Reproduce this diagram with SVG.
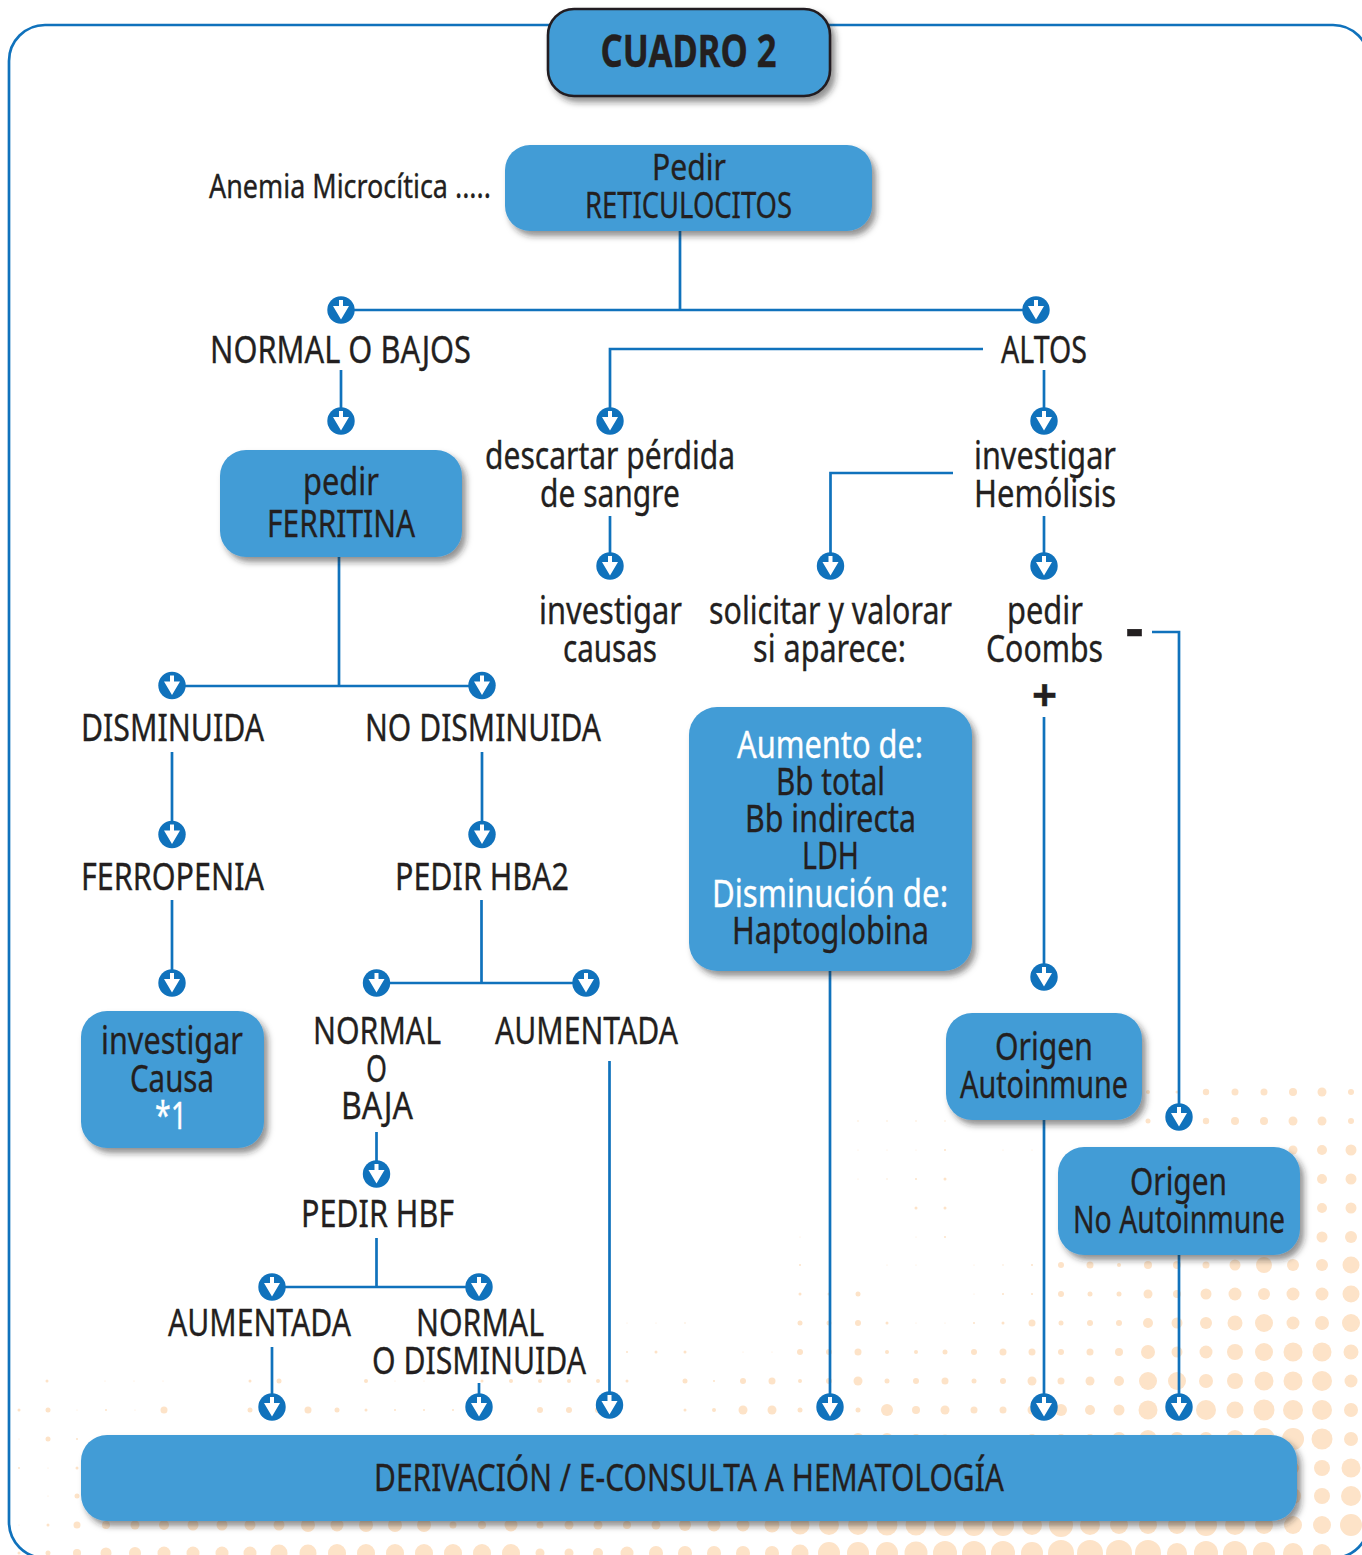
<svg xmlns="http://www.w3.org/2000/svg" width="1362" height="1555" viewBox="0 0 1362 1555">
<style>
.t{font-family:"Noto Sans","Liberation Sans",sans-serif;font-size:39px;fill:#231f20;stroke:#231f20;stroke-width:.35;text-anchor:middle}
.w{fill:#fff;stroke:#fff}
.b{fill:#439cd6;filter:url(#sh)}
.c{fill:none;stroke:#1072bc;stroke-width:2.7}
.d circle{fill:#fde3c8}
</style>
<defs>
<filter id="sh" x="-10%" y="-15%" width="125%" height="135%"><feDropShadow dx="4" dy="5" stdDeviation="3" flood-color="#231f20" flood-opacity=".5"/></filter>
<g id="a"><circle r="13.7" fill="#1072bc"/><polygon points="-2,-10 2,-10 2,-4 8,-4 0,9.5 -8,-4 -2,-4" fill="#fff"/></g>
</defs>
<rect width="1362" height="1555" fill="#fff"/>
<g id="dots" class="d">
<circle cx="1148" cy="1092" r="2"/><circle cx="1177" cy="1092" r="1.5"/><circle cx="1206" cy="1092" r="3.2"/><circle cx="1235" cy="1092" r="3.5"/><circle cx="1264" cy="1092" r="3.5"/><circle cx="1293" cy="1092" r="4"/><circle cx="1322" cy="1092" r="4.5"/><circle cx="1351" cy="1092" r="3"/>
<circle cx="858" cy="1121" r=".7"/><circle cx="887" cy="1121" r=".7"/><circle cx="916" cy="1121" r=".7"/><circle cx="945" cy="1121" r=".7"/><circle cx="1148" cy="1121" r="2.5"/><circle cx="1206" cy="1121" r="3.2"/><circle cx="1235" cy="1121" r="4"/><circle cx="1264" cy="1121" r="4"/><circle cx="1293" cy="1121" r="4.5"/><circle cx="1322" cy="1121" r="4.5"/><circle cx="1351" cy="1121" r="3"/>
<circle cx="858" cy="1150" r=".5"/><circle cx="887" cy="1150" r=".5"/><circle cx="916" cy="1150" r=".5"/><circle cx="945" cy="1150" r="1"/><circle cx="1003" cy="1150" r=".5"/><circle cx="1032" cy="1150" r=".5"/><circle cx="1293" cy="1150" r="4.5"/><circle cx="1322" cy="1150" r="5"/><circle cx="1351" cy="1150" r="5.5"/>
<circle cx="858" cy="1179" r=".5"/><circle cx="887" cy="1179" r=".7"/><circle cx="916" cy="1179" r="1"/><circle cx="945" cy="1179" r="1.5"/><circle cx="1322" cy="1179" r="5"/><circle cx="1351" cy="1179" r="5.5"/>
<circle cx="916" cy="1208" r="1.5"/><circle cx="945" cy="1208" r="1.5"/><circle cx="1322" cy="1208" r="5"/><circle cx="1351" cy="1208" r="5.5"/>
<circle cx="800" cy="1237" r=".5"/><circle cx="916" cy="1237" r=".5"/><circle cx="945" cy="1237" r="1"/><circle cx="1322" cy="1237" r="5.5"/><circle cx="1351" cy="1237" r="6"/>
<circle cx="800" cy="1265" r="1"/><circle cx="887" cy="1265" r=".5"/><circle cx="916" cy="1265" r=".5"/><circle cx="974" cy="1265" r=".5"/><circle cx="1003" cy="1265" r=".7"/><circle cx="1032" cy="1265" r="1"/><circle cx="1061" cy="1265" r="3"/><circle cx="1090" cy="1265" r="3.5"/><circle cx="1119" cy="1265" r="2"/><circle cx="1148" cy="1265" r="4"/><circle cx="1177" cy="1265" r="4"/><circle cx="1206" cy="1265" r="3.5"/><circle cx="1235" cy="1265" r="5.5"/><circle cx="1264" cy="1265" r="8"/><circle cx="1293" cy="1265" r="6"/><circle cx="1322" cy="1265" r="6"/><circle cx="1351" cy="1265" r="8.5"/>
<circle cx="800" cy="1294" r="1.5"/><circle cx="829" cy="1294" r="1.5"/><circle cx="858" cy="1294" r="2.5"/><circle cx="974" cy="1294" r=".5"/><circle cx="1003" cy="1294" r="1"/><circle cx="1032" cy="1294" r="1"/><circle cx="1061" cy="1294" r="3"/><circle cx="1090" cy="1294" r="2.5"/><circle cx="1119" cy="1294" r="2.5"/><circle cx="1148" cy="1294" r="4.5"/><circle cx="1177" cy="1294" r="4"/><circle cx="1206" cy="1294" r="5.5"/><circle cx="1235" cy="1294" r="6.5"/><circle cx="1264" cy="1294" r="6"/><circle cx="1293" cy="1294" r="6.5"/><circle cx="1322" cy="1294" r="6.5"/><circle cx="1351" cy="1294" r="8.5"/>
<circle cx="627" cy="1323" r=".5"/><circle cx="656" cy="1323" r=".5"/><circle cx="685" cy="1323" r=".7"/><circle cx="800" cy="1323" r="2.5"/><circle cx="829" cy="1323" r="2.5"/><circle cx="858" cy="1323" r="3"/><circle cx="887" cy="1323" r="1.5"/><circle cx="916" cy="1323" r=".5"/><circle cx="945" cy="1323" r=".5"/><circle cx="974" cy="1323" r="1"/><circle cx="1003" cy="1323" r="1.5"/><circle cx="1032" cy="1323" r="3.5"/><circle cx="1061" cy="1323" r="2.5"/><circle cx="1090" cy="1323" r="3"/><circle cx="1119" cy="1323" r="3"/><circle cx="1148" cy="1323" r="5"/><circle cx="1177" cy="1323" r="5.5"/><circle cx="1206" cy="1323" r="6"/><circle cx="1235" cy="1323" r="7.5"/><circle cx="1264" cy="1323" r="9"/><circle cx="1293" cy="1323" r="6.5"/><circle cx="1322" cy="1323" r="7"/><circle cx="1351" cy="1323" r="9"/>
<circle cx="627" cy="1352" r="1"/><circle cx="656" cy="1352" r="1.5"/><circle cx="685" cy="1352" r="1.5"/><circle cx="743" cy="1352" r=".5"/><circle cx="772" cy="1352" r=".5"/><circle cx="800" cy="1352" r="3"/><circle cx="829" cy="1352" r="3"/><circle cx="858" cy="1352" r="3.5"/><circle cx="887" cy="1352" r="2"/><circle cx="916" cy="1352" r="2"/><circle cx="945" cy="1352" r="2.5"/><circle cx="974" cy="1352" r="3"/><circle cx="1003" cy="1352" r="3.5"/><circle cx="1032" cy="1352" r="3.5"/><circle cx="1061" cy="1352" r="3"/><circle cx="1090" cy="1352" r="3.5"/><circle cx="1119" cy="1352" r="4"/><circle cx="1148" cy="1352" r="7"/><circle cx="1177" cy="1352" r="5.5"/><circle cx="1206" cy="1352" r="6.5"/><circle cx="1235" cy="1352" r="8"/><circle cx="1264" cy="1352" r="9"/><circle cx="1293" cy="1352" r="9.5"/><circle cx="1322" cy="1352" r="9.5"/><circle cx="1351" cy="1352" r="7.5"/>
<circle cx="47" cy="1381" r="1.5"/><circle cx="105" cy="1381" r=".5"/><circle cx="134" cy="1381" r=".5"/><circle cx="163" cy="1381" r=".5"/><circle cx="250" cy="1381" r="1.5"/><circle cx="279" cy="1381" r="2.5"/><circle cx="366" cy="1381" r="2"/><circle cx="395" cy="1381" r=".5"/><circle cx="424" cy="1381" r=".5"/><circle cx="482" cy="1381" r="1.5"/><circle cx="511" cy="1381" r="2"/><circle cx="540" cy="1381" r="2"/><circle cx="569" cy="1381" r="2"/><circle cx="598" cy="1381" r="2"/><circle cx="627" cy="1381" r="1.5"/><circle cx="685" cy="1381" r="2.5"/><circle cx="714" cy="1381" r="1"/><circle cx="743" cy="1381" r="3"/><circle cx="772" cy="1381" r="3.5"/><circle cx="800" cy="1381" r="2"/><circle cx="829" cy="1381" r="3"/><circle cx="858" cy="1381" r="4.5"/><circle cx="887" cy="1381" r="2.5"/><circle cx="916" cy="1381" r="3"/><circle cx="945" cy="1381" r="3.5"/><circle cx="974" cy="1381" r="2.5"/><circle cx="1003" cy="1381" r="3"/><circle cx="1032" cy="1381" r="4.5"/><circle cx="1061" cy="1381" r="3.5"/><circle cx="1090" cy="1381" r="4.5"/><circle cx="1119" cy="1381" r="5"/><circle cx="1148" cy="1381" r="9"/><circle cx="1177" cy="1381" r="9"/><circle cx="1206" cy="1381" r="7"/><circle cx="1235" cy="1381" r="8"/><circle cx="1264" cy="1381" r="9.5"/><circle cx="1293" cy="1381" r="9.5"/><circle cx="1322" cy="1381" r="10"/><circle cx="1351" cy="1381" r="6.5"/>
<circle cx="19" cy="1410" r="1.5"/><circle cx="48" cy="1410" r="2.5"/><circle cx="77" cy="1410" r=".5"/><circle cx="106" cy="1410" r="1"/><circle cx="135" cy="1410" r=".5"/><circle cx="164" cy="1410" r="3.5"/><circle cx="250" cy="1410" r="2.5"/><circle cx="308" cy="1410" r="3.5"/><circle cx="337" cy="1410" r="2.5"/><circle cx="366" cy="1410" r="1.5"/><circle cx="395" cy="1410" r="1"/><circle cx="424" cy="1410" r="1"/><circle cx="453" cy="1410" r="1"/><circle cx="540" cy="1410" r="3"/><circle cx="569" cy="1410" r="3"/><circle cx="598" cy="1410" r="3"/><circle cx="685" cy="1410" r="1.5"/><circle cx="714" cy="1410" r="2"/><circle cx="743" cy="1410" r="4.5"/><circle cx="772" cy="1410" r="4.5"/><circle cx="800" cy="1410" r="2.5"/><circle cx="858" cy="1410" r="2.5"/><circle cx="887" cy="1410" r="6"/><circle cx="916" cy="1410" r="4"/><circle cx="945" cy="1410" r="4.5"/><circle cx="974" cy="1410" r="3.5"/><circle cx="1003" cy="1410" r="3.5"/><circle cx="1032" cy="1410" r="4.5"/><circle cx="1061" cy="1410" r="6"/><circle cx="1090" cy="1410" r="5"/><circle cx="1119" cy="1410" r="5.5"/><circle cx="1148" cy="1410" r="9.5"/><circle cx="1206" cy="1410" r="10"/><circle cx="1235" cy="1410" r="8.5"/><circle cx="1264" cy="1410" r="10.5"/><circle cx="1293" cy="1410" r="10"/><circle cx="1322" cy="1410" r="10"/><circle cx="1351" cy="1410" r="7"/>
<circle cx="19" cy="1439" r=".5"/><circle cx="48" cy="1439" r="2.5"/><circle cx="77" cy="1439" r="1"/><circle cx="772" cy="1439" r="4"/><circle cx="858" cy="1439" r="6"/><circle cx="887" cy="1439" r="6"/><circle cx="916" cy="1439" r="5"/><circle cx="945" cy="1439" r="4.5"/><circle cx="974" cy="1439" r="4"/><circle cx="1003" cy="1439" r="4"/><circle cx="1032" cy="1439" r="5"/><circle cx="1061" cy="1439" r="5"/><circle cx="1090" cy="1439" r="5"/><circle cx="1119" cy="1439" r="7"/><circle cx="1148" cy="1439" r="9"/><circle cx="1177" cy="1439" r="7"/><circle cx="1206" cy="1439" r="7"/><circle cx="1235" cy="1439" r="9"/><circle cx="1264" cy="1439" r="11"/><circle cx="1293" cy="1439" r="11"/><circle cx="1322" cy="1439" r="10.5"/><circle cx="1351" cy="1439" r="7"/>
<circle cx="19" cy="1468" r="1"/><circle cx="48" cy="1468" r=".5"/><circle cx="77" cy="1468" r="1.5"/><circle cx="1293" cy="1468" r="6"/><circle cx="1322" cy="1468" r="8"/><circle cx="1351" cy="1468" r="9.5"/>
<circle cx="48" cy="1496" r=".5"/><circle cx="77" cy="1496" r="2.5"/><circle cx="1293" cy="1496" r="8"/><circle cx="1322" cy="1496" r="8"/><circle cx="1351" cy="1496" r="10"/>
<circle cx="19" cy="1525" r=".5"/><circle cx="48" cy="1525" r="1.5"/><circle cx="77" cy="1525" r="3.5"/><circle cx="106" cy="1525" r="4"/><circle cx="135" cy="1525" r="4.5"/><circle cx="164" cy="1525" r="5"/><circle cx="193" cy="1525" r="5.5"/><circle cx="222" cy="1525" r="5.5"/><circle cx="250" cy="1525" r="5.5"/><circle cx="279" cy="1525" r="5.5"/><circle cx="308" cy="1525" r="7"/><circle cx="337" cy="1525" r="6.5"/><circle cx="366" cy="1525" r="7"/><circle cx="395" cy="1525" r="7"/><circle cx="424" cy="1525" r="7"/><circle cx="453" cy="1525" r="3.5"/><circle cx="482" cy="1525" r="4"/><circle cx="511" cy="1525" r="6.5"/><circle cx="540" cy="1525" r="3.5"/><circle cx="569" cy="1525" r="4.5"/><circle cx="598" cy="1525" r="4.5"/><circle cx="627" cy="1525" r="4"/><circle cx="656" cy="1525" r="4.5"/><circle cx="685" cy="1525" r="6"/><circle cx="714" cy="1525" r="6.5"/><circle cx="743" cy="1525" r="6.5"/><circle cx="772" cy="1525" r="7.5"/><circle cx="800" cy="1525" r="9.5"/><circle cx="829" cy="1525" r="10"/><circle cx="858" cy="1525" r="10"/><circle cx="887" cy="1525" r="10.5"/><circle cx="916" cy="1525" r="10.5"/><circle cx="945" cy="1525" r="11"/><circle cx="974" cy="1525" r="11"/><circle cx="1003" cy="1525" r="11"/><circle cx="1032" cy="1525" r="10"/><circle cx="1061" cy="1525" r="12"/><circle cx="1090" cy="1525" r="10"/><circle cx="1119" cy="1525" r="9"/><circle cx="1148" cy="1525" r="9"/><circle cx="1177" cy="1525" r="9"/><circle cx="1206" cy="1525" r="11"/><circle cx="1235" cy="1525" r="10"/><circle cx="1264" cy="1525" r="9"/><circle cx="1293" cy="1525" r="9"/><circle cx="1322" cy="1525" r="9"/><circle cx="1351" cy="1525" r="11"/>
<circle cx="19" cy="1553" r="1.5"/><circle cx="48" cy="1553" r="2.5"/><circle cx="77" cy="1553" r="4"/><circle cx="106" cy="1553" r="5.5"/><circle cx="135" cy="1553" r="6"/><circle cx="164" cy="1553" r="6.5"/><circle cx="193" cy="1553" r="6.5"/><circle cx="222" cy="1553" r="6.5"/><circle cx="250" cy="1553" r="6.5"/><circle cx="279" cy="1553" r="8.5"/><circle cx="308" cy="1553" r="8.5"/><circle cx="337" cy="1553" r="9"/><circle cx="366" cy="1553" r="9"/><circle cx="395" cy="1553" r="9"/><circle cx="424" cy="1553" r="9"/><circle cx="453" cy="1553" r="9"/><circle cx="482" cy="1553" r="9"/><circle cx="511" cy="1553" r="9"/><circle cx="540" cy="1553" r="4.5"/><circle cx="569" cy="1553" r="4.5"/><circle cx="598" cy="1553" r="5"/><circle cx="627" cy="1553" r="6.5"/><circle cx="656" cy="1553" r="7"/><circle cx="685" cy="1553" r="7"/><circle cx="714" cy="1553" r="7"/><circle cx="743" cy="1553" r="7"/><circle cx="772" cy="1553" r="7"/><circle cx="800" cy="1553" r="8.5"/><circle cx="829" cy="1553" r="11"/><circle cx="858" cy="1553" r="11"/><circle cx="887" cy="1553" r="11"/><circle cx="916" cy="1553" r="11.5"/><circle cx="945" cy="1553" r="12"/><circle cx="974" cy="1553" r="12"/><circle cx="1003" cy="1553" r="12"/><circle cx="1032" cy="1553" r="11"/><circle cx="1061" cy="1553" r="13"/><circle cx="1090" cy="1553" r="13"/><circle cx="1119" cy="1553" r="13"/><circle cx="1148" cy="1553" r="13"/><circle cx="1177" cy="1553" r="10"/><circle cx="1206" cy="1553" r="12"/><circle cx="1235" cy="1553" r="12"/><circle cx="1264" cy="1553" r="11"/><circle cx="1293" cy="1553" r="10"/><circle cx="1322" cy="1553" r="9"/>
</g>
<rect id="frame" x="9" y="25" width="1360" height="1533" rx="36" fill="none" stroke="#1072bc" stroke-width="2.7"/>
<g id="connectors" class="c">
<path d="M680 231V310M341 310H1036"/>
<path d="M341 370V410"/>
<path d="M983 349H610V410"/>
<path d="M1044 370V410"/>
<path d="M610 516V555"/>
<path d="M953 473H830.500V555"/>
<path d="M1044 516V555"/>
<path d="M1152 632H1179V1105"/>
<path d="M1044 717V965"/>
<path d="M339 557V686M172 686H482"/>
<path d="M172 752V823M482 752V823"/>
<path d="M172 900V972"/>
<path d="M481.500 900V983M376.500 983H586"/>
<path d="M376.500 1132V1163"/>
<path d="M376.500 1238V1287M272 1287H479"/>
<path d="M272 1347V1396M479 1383V1396"/>
<path d="M609.500 1061V1394"/>
<path d="M830 971V1396"/>
<path d="M1044 1120V1396"/>
<path d="M1179 1255V1396"/>
<use href="#a" x="341" y="310" stroke="none"/><use href="#a" x="1036" y="310" stroke="none"/><use href="#a" x="341" y="421" stroke="none"/><use href="#a" x="610" y="421" stroke="none"/><use href="#a" x="1044" y="421" stroke="none"/><use href="#a" x="610" y="566" stroke="none"/><use href="#a" x="830.500" y="566" stroke="none"/><use href="#a" x="1044" y="566" stroke="none"/><use href="#a" x="172" y="685.500" stroke="none"/><use href="#a" x="482" y="685.500" stroke="none"/><use href="#a" x="172" y="834.500" stroke="none"/><use href="#a" x="482" y="834.500" stroke="none"/><use href="#a" x="172" y="983" stroke="none"/><use href="#a" x="376.500" y="983" stroke="none"/><use href="#a" x="586" y="983" stroke="none"/><use href="#a" x="376.500" y="1174" stroke="none"/><use href="#a" x="272" y="1287" stroke="none"/><use href="#a" x="479" y="1287" stroke="none"/><use href="#a" x="272" y="1407" stroke="none"/><use href="#a" x="479" y="1407" stroke="none"/><use href="#a" x="609.500" y="1405" stroke="none"/><use href="#a" x="830" y="1407" stroke="none"/><use href="#a" x="1044" y="1407" stroke="none"/><use href="#a" x="1179" y="1407" stroke="none"/><use href="#a" x="1044" y="977" stroke="none"/><use href="#a" x="1179" y="1117" stroke="none"/>
</g>
<g id="n-cuadro"><rect class="b" x="548" y="9" width="282" height="87" rx="26" stroke="#231f20" stroke-width="2.6"/><text class="t" x="688.500" y="67" style="font-size:45px;font-weight:700" textLength="176" lengthAdjust="spacingAndGlyphs">CUADRO 2</text></g>
<g id="n-anemia"><text class="t" x="350" y="198" style="font-size:33px" textLength="282" lengthAdjust="spacingAndGlyphs">Anemia Microcítica .....</text></g>
<g id="n-reti"><rect class="b" x="505" y="145" width="367" height="86" rx="25"/><text class="t" x="689" y="180" style="font-size:37px" textLength="74" lengthAdjust="spacingAndGlyphs">Pedir</text><text class="t" x="688.500" y="218" style="font-size:36px" textLength="207" lengthAdjust="spacingAndGlyphs">RETICULOCITOS</text></g>
<g id="n-normal-bajos"><text class="t" x="340.500" y="363" textLength="261" lengthAdjust="spacingAndGlyphs">NORMAL O BAJOS</text></g>
<g id="n-altos"><text class="t" x="1044" y="363" textLength="86" lengthAdjust="spacingAndGlyphs">ALTOS</text></g>
<g id="n-descartar"><text class="t" x="610" y="469" textLength="250" lengthAdjust="spacingAndGlyphs">descartar pérdida</text><text class="t" x="610" y="507" textLength="140" lengthAdjust="spacingAndGlyphs">de sangre</text></g>
<g id="n-hemolisis"><text class="t" x="1045" y="469" textLength="142" lengthAdjust="spacingAndGlyphs">investigar</text><text class="t" x="1045" y="507" textLength="142" lengthAdjust="spacingAndGlyphs">Hemólisis</text></g>
<g id="n-causas"><text class="t" x="610.500" y="624" textLength="143" lengthAdjust="spacingAndGlyphs">investigar</text><text class="t" x="610" y="662" textLength="94" lengthAdjust="spacingAndGlyphs">causas</text></g>
<g id="n-solicitar"><text class="t" x="830.500" y="624" textLength="243" lengthAdjust="spacingAndGlyphs">solicitar y valorar</text><text class="t" x="829.500" y="662" textLength="153" lengthAdjust="spacingAndGlyphs">si aparece:</text></g>
<g id="n-coombs"><text class="t" x="1045" y="624" textLength="76" lengthAdjust="spacingAndGlyphs">pedir</text><text class="t" x="1044.500" y="662" textLength="117" lengthAdjust="spacingAndGlyphs">Coombs</text></g>
<g id="n-signs"><text class="t" x="1134.500" y="647" style="font-size:55px;font-weight:700">-</text><text class="t" x="1044.500" y="711" style="font-size:44px;font-weight:700">+</text></g>
<g id="n-ferritina"><rect class="b" x="220" y="450" width="242" height="107" rx="26"/><text class="t" x="341" y="495" textLength="76" lengthAdjust="spacingAndGlyphs">pedir</text><text class="t" x="341" y="537" textLength="148" lengthAdjust="spacingAndGlyphs">FERRITINA</text></g>
<g id="n-disminuida"><text class="t" x="172.500" y="740.500" textLength="183" lengthAdjust="spacingAndGlyphs">DISMINUIDA</text></g>
<g id="n-no-disminuida"><text class="t" x="483" y="740.500" textLength="236" lengthAdjust="spacingAndGlyphs">NO DISMINUIDA</text></g>
<g id="n-ferropenia"><text class="t" x="172.500" y="890" textLength="183" lengthAdjust="spacingAndGlyphs">FERROPENIA</text></g>
<g id="n-hba2"><text class="t" x="482" y="890" textLength="174" lengthAdjust="spacingAndGlyphs">PEDIR HBA2</text></g>
<g id="n-causa"><rect class="b" x="81" y="1011" width="183" height="137" rx="26"/><text class="t" x="172" y="1054" textLength="142" lengthAdjust="spacingAndGlyphs">investigar</text><text class="t" x="172" y="1092" textLength="84" lengthAdjust="spacingAndGlyphs">Causa</text><text class="t w" x="171" y="1129" textLength="32" lengthAdjust="spacingAndGlyphs">*1</text></g>
<g id="n-normal-baja"><text class="t" x="377" y="1044" textLength="128" lengthAdjust="spacingAndGlyphs">NORMAL</text><text class="t" x="376.500" y="1082" textLength="21" lengthAdjust="spacingAndGlyphs">O</text><text class="t" x="377" y="1119" textLength="72" lengthAdjust="spacingAndGlyphs">BAJA</text></g>
<g id="n-aumentada1"><text class="t" x="586.500" y="1044" textLength="183" lengthAdjust="spacingAndGlyphs">AUMENTADA</text></g>
<g id="n-aumento"><rect class="b" x="689" y="707" width="283" height="264" rx="28"/><text class="t w" x="830" y="758" textLength="186" lengthAdjust="spacingAndGlyphs">Aumento de:</text><text class="t" x="830.500" y="795" textLength="109" lengthAdjust="spacingAndGlyphs">Bb total</text><text class="t" x="830.500" y="832" textLength="171" lengthAdjust="spacingAndGlyphs">Bb indirecta</text><text class="t" x="830.500" y="869" textLength="57" lengthAdjust="spacingAndGlyphs">LDH</text><text class="t w" x="830" y="907" textLength="236" lengthAdjust="spacingAndGlyphs">Disminución de:</text><text class="t" x="830.500" y="944" textLength="197" lengthAdjust="spacingAndGlyphs">Haptoglobina</text></g>
<g id="n-autoinmune"><rect class="b" x="946" y="1013" width="196" height="107" rx="26"/><text class="t" x="1044" y="1060" textLength="98" lengthAdjust="spacingAndGlyphs">Origen</text><text class="t" x="1044" y="1098" textLength="168" lengthAdjust="spacingAndGlyphs">Autoinmune</text></g>
<g id="n-no-autoinmune"><rect class="b" x="1058" y="1147" width="242" height="108" rx="26"/><text class="t" x="1178.500" y="1195" textLength="97" lengthAdjust="spacingAndGlyphs">Origen</text><text class="t" x="1179" y="1233" textLength="212" lengthAdjust="spacingAndGlyphs">No Autoinmune</text></g>
<g id="n-hbf"><text class="t" x="377.500" y="1227" textLength="153" lengthAdjust="spacingAndGlyphs">PEDIR HBF</text></g>
<g id="n-aumentada2"><text class="t" x="259.500" y="1336" textLength="183" lengthAdjust="spacingAndGlyphs">AUMENTADA</text></g>
<g id="n-normal-dism"><text class="t" x="480" y="1336" textLength="128" lengthAdjust="spacingAndGlyphs">NORMAL</text><text class="t" x="479" y="1374" textLength="214" lengthAdjust="spacingAndGlyphs">O DISMINUIDA</text></g>
<g id="n-derivacion"><rect class="b" x="81" y="1435" width="1216" height="86" rx="26"/><text class="t" x="689" y="1491" textLength="630" lengthAdjust="spacingAndGlyphs">DERIVACIÓN / E-CONSULTA A HEMATOLOGÍA</text></g>
</svg>
